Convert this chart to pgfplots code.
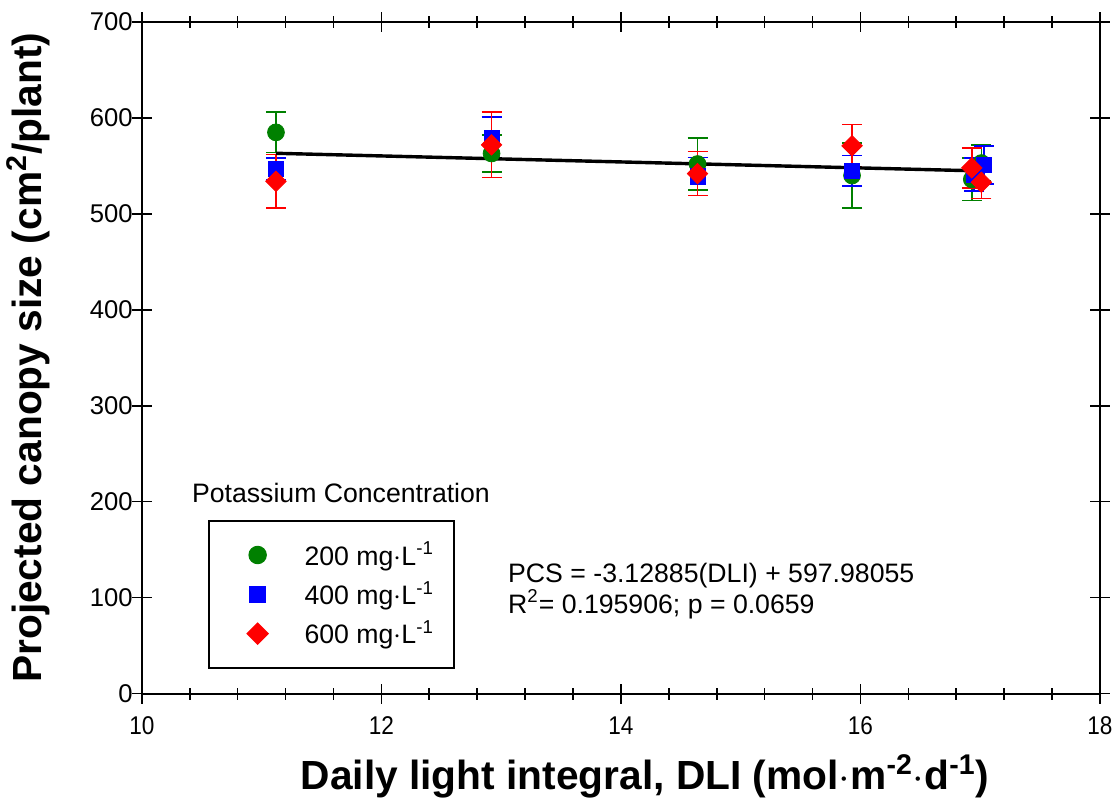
\documentclass[border=0pt]{standalone}
\usepackage{pgfplots}
\pgfplotsset{compat=1.18}
\usepackage{fontspec}
\setmainfont{Liberation Sans}
\definecolor{kgreen}{RGB}{0,128,0}
\definecolor{kblue}{RGB}{0,0,255}
\definecolor{kred}{RGB}{255,0,0}
\begin{document}
\begin{tikzpicture}
\begin{axis}[
    width=478pt, height=335pt, scale only axis,
    xmin=10, xmax=18, ymin=0, ymax=700,
    xtick={10,12,...,18}, ytick={0,100,...,700},
    minor x tick num=4,
    tick align=center,
    major tick length=10pt, minor tick length=6pt,
    tick style={black, line width=0.8pt},
    axis line style={line width=1pt},
    /pgf/number format/assume math mode=true,
    yticklabel style={font=\fontsize{12.8}{14}\selectfont, xshift=4pt},
    xticklabel={\scalebox{0.88}[1]{\pgfmathprintnumber{\tick}}},
    xticklabel style={font=\fontsize{12.8}{14}\selectfont, yshift=-3pt},
    xlabel={\fontsize{20.3}{23}\selectfont\bfseries Daily light integral, DLI (mol$\cdot$m\textsuperscript{-2}$\cdot$d\textsuperscript{-1})},
    ylabel={\fontsize{20.3}{23}\selectfont\bfseries Projected canopy size (cm\textsuperscript{2}/plant)},
    xlabel style={yshift=-3pt, xshift=12pt},
    ylabel style={yshift=13pt},
    error bars/error bar style={line width=0.8pt},
    error bars/error mark options={rotate=90, mark size=5pt, line width=0.8pt},
    legend style={at={(0.069,0.037)}, anchor=south west, draw=black, line width=0.8pt,
        font=\fontsize{13.3}{15}\selectfont, inner xsep=8pt, inner ysep=8.5pt,
        row sep=2.5pt, legend cell align=left},
    legend image code/.code={\path (-16pt,0pt) (21pt,0pt); \draw plot coordinates {(0pt,0pt)};},
]
\addplot[only marks, mark=*, color=kgreen, mark size=4.2pt,
    error bars/.cd, y dir=both, y explicit, error bar style={color=kgreen}]
    coordinates {
    (11.12,585) +- (0,21)
    (12.92,563) +- (0,19)
    (14.64,552) +- (0,27)
    (15.93,540) +- (0,34)
    (16.93,536) +- (0,22)
    (17.01,553) +- (0,19)
    };
\addplot[only marks, mark=square*, color=kblue, mark size=3.8pt,
    error bars/.cd, y dir=both, y explicit, error bar style={color=kblue}]
    coordinates {
    (11.12,547) +- (0,11)
    (12.92,579) +- (0,22)
    (14.64,539) +- (0,20)
    (15.93,545) +- (0,16)
    (16.95,541) +- (0,17)
    (17.03,551) +- (0,20)
    };
\addplot[only marks, mark=square*, mark options={rotate=45}, color=kred, mark size=3.6pt,
    error bars/.cd, y dir=both, y explicit, error bar style={color=kred}]
    coordinates {
    (11.12,534) +- (0,28)
    (12.92,572) +- (0,34)
    (14.64,542) +- (0,23)
    (15.93,571) +- (0,22)
    (16.93,548) +- (0,21)
    (17.01,533) +- (0,17)
    };
\addplot[black, line width=1.7pt, no marks, forget plot] coordinates {(11.12,563.19) (17.01,544.76)};
\legend{200 mg$\cdot$L\textsuperscript{-1}, 400 mg$\cdot$L\textsuperscript{-1}, 600 mg$\cdot$L\textsuperscript{-1}}
\node[anchor=west, font=\fontsize{13.3}{15}\selectfont] at (axis cs:10.36,209) {Potassium Concentration};
\node[anchor=west, align=left, font=\fontsize{13.3}{15.5}\selectfont] at (axis cs:13.0,107) {PCS = -3.12885(DLI) + 597.98055\\R\textsuperscript{2}= 0.195906; p = 0.0659};
\end{axis}
\path ([yshift=11pt]current axis.north);
\path ([xshift=10pt]current axis.east);
\end{tikzpicture}
\end{document}
